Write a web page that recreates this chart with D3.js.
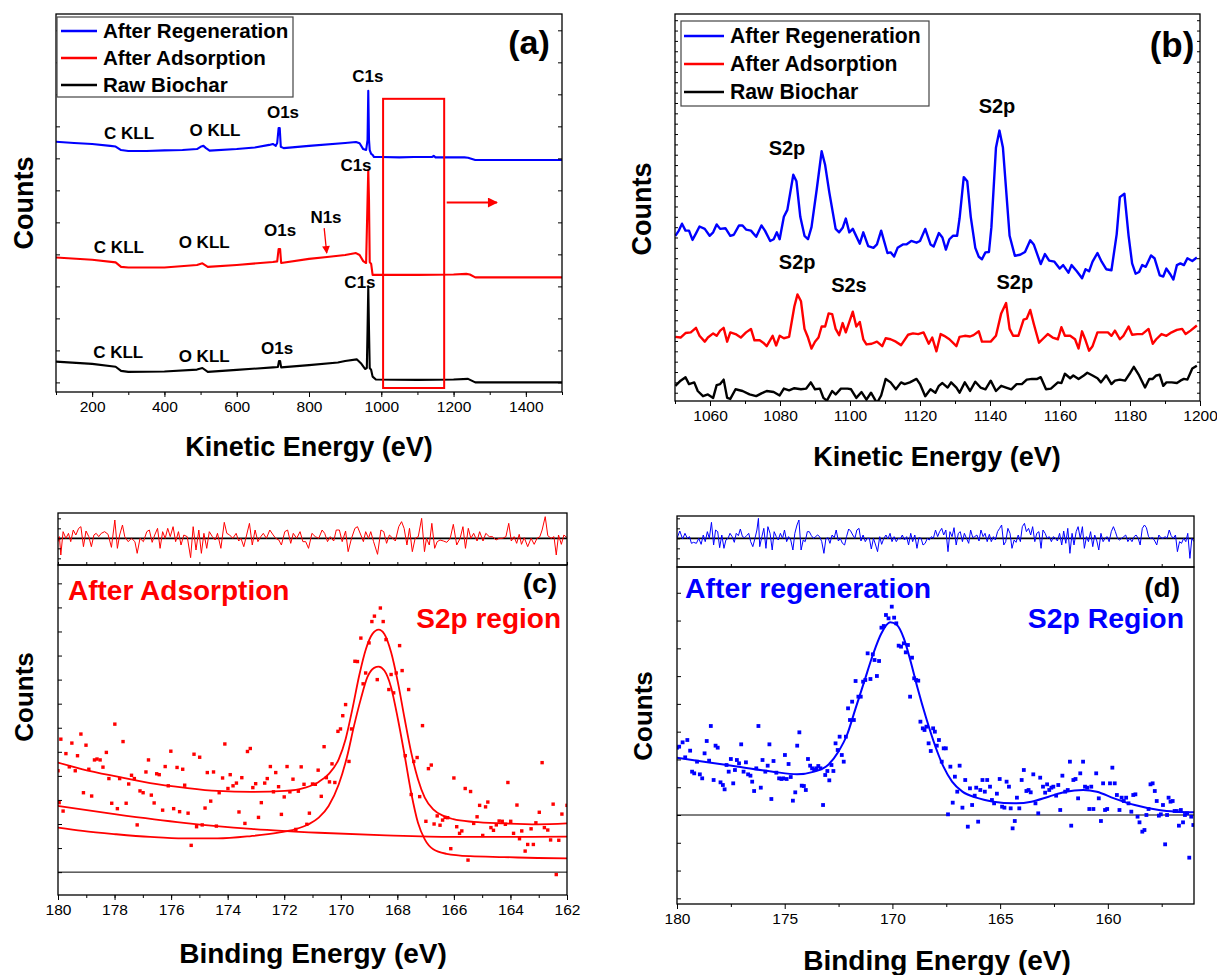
<!DOCTYPE html>
<html><head><meta charset="utf-8">
<script src="https://cdn.jsdelivr.net/npm/d3@7"></script>
<style>body{margin:0;background:#fff}</style>
</head><body><svg id="chart" width="1217" height="975"></svg>
<script>
// ---------------- DATA ----------------
const seriesNames = ["After Regeneration","After Adsorption","Raw Biochar"];
// (a) survey spectra [kinetic energy eV, counts]
const surveyRegen = [[100,75.2],[150,74.8],[200,74.5],[250,73.9],[265,73.7],[280,72.6],[300,72.3],[350,72.3],[400,72.5],[450,72.6],[490,72.9],[500,73.6],[508,73.9],[515,73.2],[525,72.4],[600,72.9],[650,73.4],[690,74.2],[700,74.5],[708,73.9],[712,74.8],[716,79.5],[719,79.5],[722,73.6],[730,73.2],[800,73.9],[900,74.8],[930,75.1],[940,74.7],[950,72.9],[958,72.6],[962,75.8],[964,91.1],[966,75.8],[968,72.6],[972,71.4],[976,71.1],[980,70.4],[1000,70.4],[1050,70.3],[1090,70.4],[1140,70.4],[1145,70.8],[1150,70.3],[1230,70.3],[1240,70.2],[1260,69.5],[1500,69.5]];
const surveyAdsorb = [[100,39.0],[200,38.3],[265,37.5],[280,36.1],[300,35.9],[400,35.9],[490,36.7],[505,37.2],[520,36.1],[600,36.7],[700,37.6],[712,37.8],[716,41.7],[720,41.7],[723,37.3],[800,38.6],[850,39.2],[900,39.8],[930,40.4],[940,39.8],[950,37.9],[958,37.3],[962,57.0],[964,66.4],[966,57.0],[968,37.6],[972,37.0],[976,33.6],[1000,33.6],[1100,33.6],[1200,33.7],[1235,33.9],[1245,33.7],[1260,32.8],[1500,32.8]];
const surveyRaw = [[100,6.5],[200,5.8],[265,4.9],[280,3.6],[300,3.3],[400,3.4],[490,4.0],[505,4.5],[520,3.3],[600,3.9],[700,4.7],[714,4.8],[717,6.7],[720,6.7],[723,4.7],[800,5.4],[880,6.2],[900,6.7],[932,7.2],[945,5.8],[955,4.2],[960,4.5],[962,16.4],[964,29.9],[966,16.4],[968,4.5],[972,3.9],[976,1.8],[985,0.9],[1100,0.8],[1200,0.9],[1240,1.1],[1260,0.0],[1500,0.0]];
// (b) S region spectra
const zoomRegen = [[1050.1,54.5],[1051.1,56.0],[1052.0,58.0],[1053.0,56.0],[1054.0,56.0],[1055.0,53.3],[1056.0,55.2],[1057.0,57.2],[1058.5,56.5],[1059.9,54.5],[1060.9,55.5],[1061.9,57.8],[1062.9,56.5],[1064.4,56.7],[1065.8,54.5],[1066.8,54.8],[1068.3,57.5],[1069.3,57.5],[1070.3,56.3],[1071.7,56.0],[1073.2,54.2],[1074.7,57.5],[1075.7,56.0],[1077.2,53.0],[1078.2,53.5],[1079.1,55.5],[1079.9,53.5],[1081.1,60.0],[1082.1,62.0],[1083.8,72.2],[1084.7,70.3],[1085.8,60.0],[1087.0,54.5],[1088.0,53.5],[1089.0,57.0],[1090.5,68.0],[1091.9,79.0],[1092.9,75.0],[1094.1,67.0],[1095.9,56.5],[1096.9,55.5],[1097.9,56.8],[1098.8,59.5],[1099.8,55.5],[1100.8,56.5],[1102.8,52.2],[1103.8,55.5],[1105.2,51.5],[1106.7,51.0],[1107.7,52.0],[1108.9,56.0],[1110.7,49.5],[1111.6,49.7],[1112.6,48.5],[1113.6,51.0],[1115.1,52.0],[1116.1,52.0],[1117.5,53.0],[1119.0,52.5],[1120.0,53.0],[1121.5,56.5],[1123.0,52.0],[1123.9,51.4],[1125.4,55.3],[1126.4,54.0],[1127.4,50.5],[1128.4,53.5],[1129.4,54.5],[1130.6,54.5],[1131.3,59.5],[1132.5,71.5],[1133.5,70.3],[1134.5,60.0],[1135.8,51.0],[1136.8,48.4],[1137.7,47.7],[1138.7,49.7],[1139.7,49.8],[1140.4,57.0],[1141.7,80.0],[1142.7,85.0],[1143.7,80.0],[1145.6,54.5],[1147.1,48.7],[1148.6,49.0],[1150.0,49.8],[1151.5,53.2],[1152.5,52.0],[1154.5,46.3],[1155.7,49.2],[1156.9,47.3],[1158.4,47.0],[1159.9,45.0],[1160.9,46.0],[1162.4,43.8],[1163.3,46.0],[1164.8,44.2],[1166.3,42.2],[1167.3,44.8],[1168.3,44.2],[1169.3,47.0],[1170.7,49.5],[1171.9,47.0],[1173.2,44.8],[1174.7,44.5],[1176.2,55.0],[1177.1,65.7],[1178.4,66.7],[1179.6,54.5],[1180.6,46.5],[1181.6,43.5],[1182.6,44.0],[1183.5,46.0],[1184.5,45.5],[1186.0,48.8],[1187.0,48.0],[1188.5,43.0],[1189.5,42.7],[1190.4,45.0],[1191.4,43.5],[1192.4,41.8],[1193.4,46.0],[1194.4,46.5],[1195.4,46.0],[1196.4,48.0],[1197.8,47.2],[1199.1,48.2]];
const zoomAdsorb = [[1050.1,25.2],[1051.6,25.0],[1053.0,26.3],[1054.5,26.5],[1056.0,27.8],[1057.0,25.5],[1058.5,23.8],[1059.4,25.0],[1060.9,26.2],[1061.9,25.5],[1062.9,27.0],[1063.9,27.8],[1064.9,23.8],[1065.8,26.5],[1067.3,26.0],[1068.8,25.0],[1070.3,26.5],[1071.7,27.5],[1072.7,24.2],[1074.2,24.2],[1075.2,23.5],[1076.2,22.5],[1077.9,25.5],[1078.9,22.7],[1079.9,25.5],[1081.1,24.8],[1082.6,25.2],[1084.1,34.0],[1085.0,37.5],[1086.0,35.5],[1087.0,27.5],[1088.0,25.0],[1089.0,21.8],[1090.0,23.8],[1091.0,25.0],[1091.9,28.2],[1092.9,28.2],[1093.9,32.0],[1094.9,31.8],[1095.9,27.5],[1096.9,25.7],[1097.9,29.2],[1098.8,26.5],[1100.8,32.5],[1101.8,28.2],[1102.8,29.5],[1103.8,24.5],[1104.7,23.0],[1106.2,23.2],[1107.7,23.8],[1109.2,22.5],[1110.2,24.8],[1111.6,24.5],[1113.1,23.8],[1114.6,22.8],[1116.6,25.8],[1118.0,26.2],[1119.5,26.0],[1121.0,26.5],[1122.5,23.2],[1123.5,25.0],[1124.7,21.0],[1125.9,26.0],[1126.9,25.5],[1128.4,24.5],[1130.4,22.5],[1131.3,25.2],[1132.8,25.5],[1134.3,25.3],[1135.3,25.7],[1136.8,26.8],[1137.7,23.8],[1139.2,23.8],[1140.2,23.8],[1141.7,25.5],[1143.2,32.0],[1144.6,35.0],[1145.6,27.5],[1146.6,25.5],[1148.1,25.5],[1149.6,30.2],[1150.5,30.5],[1151.5,33.0],[1152.5,29.0],[1154.0,23.5],[1155.0,24.5],[1156.5,26.0],[1157.9,25.0],[1159.4,24.5],[1160.4,28.0],[1161.4,25.5],[1162.9,25.5],[1164.3,24.5],[1165.3,21.8],[1166.3,26.8],[1167.3,24.2],[1168.3,21.2],[1169.3,22.5],[1170.7,26.5],[1172.2,26.5],[1173.7,26.5],[1174.7,25.5],[1175.7,27.0],[1177.1,24.5],[1178.1,25.5],[1179.6,28.2],[1180.6,25.8],[1182.1,26.0],[1183.5,26.0],[1185.3,27.5],[1186.5,23.2],[1187.5,24.5],[1189.0,26.0],[1190.4,25.5],[1191.9,26.5],[1193.4,27.2],[1194.9,27.5],[1195.9,26.0],[1197.3,27.0],[1199.1,28.5]];
const zoomRaw = [[1050.1,11.0],[1051.6,12.5],[1053.0,13.5],[1054.0,11.5],[1055.5,12.0],[1056.5,9.5],[1058.0,8.0],[1059.4,8.5],[1060.9,7.5],[1061.9,11.2],[1062.9,11.5],[1063.9,12.8],[1064.9,7.5],[1065.8,7.2],[1067.3,10.0],[1069.3,9.5],[1071.3,8.5],[1073.2,8.0],[1074.7,8.8],[1076.2,9.5],[1078.2,9.2],[1079.9,8.2],[1081.1,10.2],[1082.6,9.7],[1084.1,10.3],[1086.0,10.0],[1087.5,10.2],[1088.8,12.0],[1090.0,10.0],[1091.4,10.2],[1092.4,7.5],[1093.4,6.7],[1094.9,9.5],[1095.9,8.5],[1097.4,10.2],[1099.3,10.2],[1100.3,10.0],[1101.8,7.5],[1103.3,9.2],[1104.7,7.0],[1106.0,9.0],[1107.7,6.0],[1108.9,8.2],[1110.2,13.0],[1111.6,12.0],[1113.1,10.0],[1114.6,12.0],[1115.6,11.5],[1117.1,12.0],[1119.0,13.0],[1120.0,11.5],[1121.5,8.0],[1123.0,10.0],[1124.4,9.0],[1125.4,11.0],[1126.4,11.8],[1127.9,10.5],[1128.9,12.0],[1130.4,10.5],[1131.3,9.0],[1132.8,12.0],[1134.3,9.5],[1135.8,12.2],[1137.3,10.5],[1138.7,10.0],[1140.2,12.5],[1141.7,9.5],[1143.2,11.0],[1144.6,10.5],[1146.1,10.0],[1147.6,11.5],[1149.1,11.5],[1150.5,12.8],[1152.0,13.0],[1153.5,13.0],[1154.5,13.5],[1156.0,10.0],[1157.4,10.2],[1159.4,12.0],[1160.4,11.8],[1161.4,14.5],[1162.9,13.2],[1163.8,14.0],[1165.3,13.0],[1166.8,14.0],[1167.8,14.8],[1169.3,14.0],[1170.7,13.2],[1171.7,12.0],[1173.2,14.0],[1174.7,11.5],[1175.7,12.5],[1177.1,12.8],[1178.6,12.5],[1180.1,14.8],[1181.1,16.5],[1182.6,14.0],[1184.3,10.5],[1185.5,13.0],[1186.5,13.0],[1187.5,14.0],[1188.5,14.2],[1189.5,11.0],[1190.4,12.0],[1191.9,12.0],[1193.4,11.8],[1194.4,12.5],[1195.4,13.0],[1196.4,12.8],[1197.8,16.0],[1199.1,16.8]];
// (c) S2p region after adsorption [binding energy eV, counts]
const adsDots = [[180.0,33.7],[179.96,23.1],[179.90,44.2],[179.82,20.3],[179.72,39.4],[179.60,35.0],[179.51,42.9],[179.39,33.7],[179.31,38.7],[179.19,45.9],[179.10,26.4],[179.01,42.2],[178.91,34.2],[178.81,25.3],[178.71,37.3],[178.62,37.6],[178.51,37.3],[178.41,34.9],[178.29,39.8],[178.20,31.1],[178.10,22.9],[177.99,49.2],[177.90,21.1],[177.82,31.1],[177.70,43.4],[177.59,22.9],[177.50,29.3],[177.40,32.2],[177.30,31.1],[177.20,15.7],[177.10,27.0],[176.99,26.4],[176.89,33.3],[176.80,37.3],[176.70,25.6],[176.60,23.0],[176.51,32.7],[176.42,32.4],[176.30,20.6],[176.21,35.1],[176.10,28.7],[176.01,40.2],[175.91,21.1],[175.79,34.8],[175.70,20.1],[175.59,34.2],[175.52,28.9],[175.40,19.6],[175.29,8.9],[175.19,39.2],[175.10,15.1],[174.99,38.2],[174.90,15.7],[174.80,21.3],[174.72,33.1],[174.60,23.6],[174.50,33.3],[174.40,15.3],[174.30,26.4],[174.18,31.3],[174.10,42.6],[173.99,27.8],[173.91,32.4],[173.81,28.7],[173.69,29.6],[173.60,20.0],[173.50,31.4],[173.39,16.2],[173.30,40.1],[173.20,41.1],[173.11,28.1],[173.01,29.4],[172.91,18.2],[172.81,23.1],[172.69,29.6],[172.60,31.1],[172.49,35.1],[172.38,26.7],[172.30,33.1],[172.20,28.4],[172.10,19.2],[172.00,25.0],[171.90,35.1],[171.80,26.7],[171.69,30.9],[171.59,14.2],[171.50,26.9],[171.40,35.0],[171.30,29.2],[171.20,15.9],[171.11,19.6],[171.00,29.3],[170.90,29.2],[170.80,33.9],[170.69,25.2],[170.59,41.7],[170.51,31.4],[170.40,30.0],[170.31,36.0],[170.21,29.8],[170.10,46.8],[170.01,47.6],[169.93,52.0],[169.83,55.7],[169.71,36.8],[169.62,47.6],[169.50,70.1],[169.41,70.0],[169.29,77.8],[169.21,62.6],[169.12,66.2],[169.00,76.2],[168.90,83.3],[168.81,85.1],[168.71,64.0],[168.60,87.8],[168.50,83.3],[168.40,77.3],[168.30,60.7],[168.22,65.7],[168.13,59.6],[168.04,66.2],[167.92,75.3],[167.83,67.0],[167.72,38.7],[167.60,60.7],[167.51,25.8],[167.42,36.8],[167.30,38.1],[167.21,25.1],[167.11,48.7],[166.99,16.9],[166.90,34.4],[166.80,35.6],[166.70,16.0],[166.59,18.7],[166.49,15.6],[166.40,17.3],[166.31,18.2],[166.22,18.1],[166.11,7.8],[166.00,31.3],[165.90,15.1],[165.80,12.9],[165.72,13.7],[165.60,27.8],[165.50,4.0],[165.41,26.8],[165.30,16.2],[165.18,18.4],[165.09,22.2],[164.98,12.2],[164.88,21.7],[164.80,23.3],[164.69,14.8],[164.60,13.9],[164.50,15.7],[164.40,17.0],[164.29,16.9],[164.18,15.9],[164.09,29.8],[163.99,16.9],[163.89,12.9],[163.77,22.3],[163.68,11.1],[163.60,13.7],[163.48,7.0],[163.39,9.2],[163.27,14.4],[163.19,9.2],[163.10,16.4],[162.98,19.9],[162.88,36.4],[162.80,14.8],[162.68,14.0],[162.58,10.7],[162.49,22.6],[162.38,-0.8],[162.29,10.6],[162.18,19.3],[162.0,22.2]];
const adsEnvelope = [[180.0,36.4],[179.13,34.2],[177.94,31.8],[176.74,29.6],[175.55,28.1],[174.36,27.0],[173.17,26.7],[171.98,27.0],[171.26,28.1],[170.78,30.0],[170.43,32.6],[170.07,37.6],[169.83,44.2],[169.59,54.2],[169.35,65.3],[169.11,74.2],[168.88,79.2],[168.66,80.6],[168.46,79.2],[168.22,73.1],[167.98,63.1],[167.74,50.9],[167.51,39.8],[167.27,30.9],[167.03,24.8],[166.73,20.9],[166.37,18.7],[166.02,17.6],[165.30,16.7],[164.23,16.2],[163.04,15.9],[162.0,16.2]];
const adsComponent = [[180.0,14.8],[179.13,13.7],[177.94,12.6],[176.74,11.7],[175.55,11.2],[174.36,11.2],[173.17,12.0],[172.21,13.1],[171.62,14.2],[171.14,15.9],[170.78,18.1],[170.43,22.0],[170.07,29.2],[169.77,38.7],[169.53,48.7],[169.29,57.6],[169.06,64.8],[168.82,67.9],[168.66,68.3],[168.46,67.0],[168.22,61.4],[167.98,50.9],[167.74,38.7],[167.51,26.4],[167.27,16.4],[167.03,10.9],[166.73,7.6],[166.26,6.1],[165.42,5.3],[164.23,5.0],[163.04,4.7],[162.0,4.6]];
const adsBackground = [[180.0,22.0],[177.94,19.2],[175.55,16.4],[173.17,14.4],[170.78,13.1],[168.40,12.2],[166.02,11.7],[163.64,11.7],[162.0,11.8]];
const adsResidual = [[180.0,-1.0],[179.95,0.5],[179.90,-5.0],[179.82,2.0],[179.72,0],[179.63,1.5],[179.55,-1.0],[179.46,2.5],[179.37,1.0],[179.27,3.0],[179.19,3.5],[179.10,-2.5],[179.01,2.2],[178.91,0.5],[178.82,-2.5],[178.73,1.0],[178.65,1.5],[178.56,0.5],[178.47,1.5],[178.35,2.0],[178.23,1.2],[178.11,-2.7],[177.99,5.5],[177.90,-3.0],[177.82,1.0],[177.72,4.0],[177.64,0.5],[177.52,-1.0],[177.40,0],[177.28,-1.0],[177.20,-4.5],[177.10,0],[176.98,-1.0],[176.86,2.0],[176.77,2.5],[176.67,-1.2],[176.58,1.0],[176.48,3.0],[176.39,-3.0],[176.30,2.0],[176.21,0],[176.12,3.0],[176.03,0.5],[175.93,3.5],[175.84,-1.0],[175.74,2.0],[175.65,-2.0],[175.55,1.0],[175.43,0.5],[175.31,-5.8],[175.22,3.5],[175.12,-3.5],[175.02,2.5],[174.93,-4.5],[174.84,1.5],[174.74,-3.0],[174.65,2.0],[174.54,0.5],[174.44,-0.5],[174.36,1.5],[174.24,-3.0],[174.12,4.8],[174.03,1.5],[173.93,1.0],[173.82,0],[173.70,1.5],[173.61,-0.8],[173.53,0],[173.43,-2.5],[173.33,1.0],[173.23,4.5],[173.13,-2.0],[173.03,2.5],[172.93,-1.0],[172.83,0.5],[172.74,1.5],[172.63,0],[172.51,2.5],[172.39,1.0],[172.30,0],[172.19,-0.5],[172.10,-2.0],[171.98,2.0],[171.88,2.5],[171.77,-1.5],[171.68,1.5],[171.56,0],[171.44,2.0],[171.34,-1.0],[171.24,-1.0],[171.14,-3.0],[171.02,1.5],[170.90,0.5],[170.78,0],[170.66,2.5],[170.57,1.5],[170.47,-1.0],[170.37,0.5],[170.25,-0.8],[170.16,2.5],[170.05,2.5],[169.95,-1.0],[169.83,2.2],[169.74,-4.0],[169.62,0],[169.50,3.0],[169.41,3.5],[169.29,1.0],[169.20,-1.0],[169.12,2.0],[169.02,0],[168.94,2.0],[168.84,-1.0],[168.70,-4.8],[168.58,2.5],[168.48,2.0],[168.38,-1.5],[168.28,1.0],[168.16,0],[168.07,-0.8],[167.95,3.5],[167.85,5.0],[167.76,3.0],[167.66,-2.0],[167.57,3.0],[167.47,-4.0],[167.37,0],[167.26,0.5],[167.14,6.0],[167.04,-4.0],[166.97,0],[166.87,-2.0],[166.78,4.5],[166.68,-3.0],[166.59,-1.0],[166.49,-0.5],[166.37,-0.8],[166.25,-1.2],[166.13,0],[166.02,4.2],[165.90,-2.0],[165.78,0],[165.68,3.5],[165.59,-3.0],[165.49,3.0],[165.40,0],[165.30,1.5],[165.18,-0.8],[165.09,2.0],[164.97,-0.8],[164.87,1.5],[164.75,0.5],[164.63,0.5],[164.51,-0.5],[164.40,0],[164.28,0],[164.16,0.5],[164.06,4.5],[163.97,-0.8],[163.87,0.5],[163.78,-1.5],[163.69,1.2],[163.61,-1.8],[163.51,0.2],[163.39,-2.5],[163.27,0],[163.16,-1.8],[163.06,0],[162.96,0.5],[162.88,2.5],[162.77,6.5],[162.68,0.8],[162.56,0],[162.46,0.5],[162.38,-5.0],[162.30,1.0],[162.20,-1.8],[162.11,1.0],[162.00,0.2]];
// (d) S2p region after regeneration
const regDots = [[180.0,20.2],[179.90,20.5],[179.74,21.8],[179.62,17.3],[179.52,22.5],[179.39,19.3],[179.30,13.0],[179.20,12.5],[179.07,16.0],[178.94,12.2],[178.83,11.0],[178.72,18.5],[178.62,22.2],[178.51,16.3],[178.43,26.7],[178.30,10.5],[178.21,20.8],[178.11,20.2],[177.98,9.8],[177.87,9.0],[177.79,7.7],[177.70,15.0],[177.60,13.0],[177.50,16.8],[177.39,9.5],[177.31,13.5],[177.22,16.5],[177.12,15.5],[177.02,21.2],[176.91,13.0],[176.80,15.8],[176.70,12.2],[176.59,11.8],[176.51,10.0],[176.42,7.2],[176.32,14.0],[176.22,26.7],[176.11,8.2],[176.03,16.5],[175.90,13.0],[175.79,14.8],[175.71,21.2],[175.62,4.8],[175.52,16.2],[175.39,12.7],[175.26,11.0],[175.15,10.8],[175.07,11.0],[174.99,18.0],[174.91,10.8],[174.82,15.3],[174.72,11.4],[174.62,4.3],[174.51,6.8],[174.42,20.8],[174.32,24.8],[174.21,8.8],[174.11,8.7],[174.02,7.5],[173.92,16.8],[173.82,14.8],[173.73,14.0],[173.63,13.5],[173.54,14.0],[173.44,14.7],[173.34,14.0],[173.22,3.0],[173.12,12.0],[173.02,13.2],[172.93,10.4],[172.83,15.0],[172.74,13.2],[172.64,21.5],[172.54,19.5],[172.45,23.5],[172.35,18.0],[172.26,16.0],[172.16,23.5],[172.06,32.0],[171.97,28.5],[171.87,34.0],[171.79,28.5],[171.71,40.2],[171.58,35.5],[171.47,35.5],[171.36,40.0],[171.26,40.5],[171.15,48.5],[171.02,40.8],[170.91,48.2],[170.83,46.5],[170.72,41.7],[170.62,46.2],[170.51,56.2],[170.40,56.7],[170.30,60.0],[170.18,59.0],[170.03,62.5],[169.92,59.2],[169.82,57.5],[169.71,50.8],[169.60,50.5],[169.47,51.5],[169.38,48.8],[169.28,51.0],[169.18,35.5],[169.09,47.2],[168.99,41.0],[168.90,40.5],[168.80,40.3],[168.70,28.0],[168.59,26.0],[168.51,25.5],[168.42,26.5],[168.32,21.5],[168.22,19.2],[168.11,26.0],[168.03,25.0],[167.94,20.8],[167.84,22.5],[167.71,16.0],[167.62,20.0],[167.52,20.0],[167.42,0.2],[167.31,14.5],[167.20,3.7],[167.10,11.5],[166.99,7.0],[166.88,14.8],[166.75,2.2],[166.62,10.5],[166.50,-3.5],[166.40,8.0],[166.30,3.0],[166.18,5.8],[166.11,8.2],[166.02,-2.0],[165.92,7.5],[165.82,10.5],[165.71,7.0],[165.60,10.5],[165.47,8.5],[165.38,4.5],[165.28,3.5],[165.15,6.4],[165.02,10.8],[164.91,2.5],[164.80,2.2],[164.70,10.0],[164.59,8.5],[164.51,2.0],[164.42,-4.0],[164.32,-1.8],[164.22,5.2],[164.11,2.0],[164.00,10.5],[163.90,13.5],[163.78,7.2],[163.68,7.5],[163.58,6.8],[163.46,12.2],[163.36,3.5],[163.23,0.5],[163.14,11.2],[163.01,8.5],[162.91,6.7],[162.82,9.2],[162.72,7.5],[162.62,8.2],[162.53,8.5],[162.40,5.8],[162.30,9.0],[162.21,1.5],[162.11,11.8],[161.98,7.0],[161.86,7.5],[161.76,16.0],[161.70,-3.2],[161.60,10.5],[161.50,10.8],[161.38,5.0],[161.28,12.5],[161.15,16.0],[161.06,8.5],[160.96,8.2],[160.86,1.8],[160.77,8.5],[160.67,1.8],[160.54,12.5],[160.42,5.0],[160.32,-1.8],[160.22,9.5],[160.13,1.5],[160.03,1.8],[159.90,9.5],[159.79,14.2],[159.68,9.5],[159.58,6.0],[159.46,1.5],[159.36,5.2],[159.26,4.2],[159.15,5.2],[159.04,3.5],[158.91,1.0],[158.82,6.0],[158.72,6.2],[158.62,-0.5],[158.53,-2.2],[158.40,-5.0],[158.30,-4.5],[158.21,0.0],[158.11,1.8],[158.02,9.2],[157.92,9.5],[157.82,7.2],[157.73,4.2],[157.63,-0.2],[157.54,0.2],[157.44,3.0],[157.34,-8.8],[157.25,0.0],[157.18,5.2],[157.09,4.0],[156.99,4.2],[156.90,1.2],[156.80,1.2],[156.70,-3.2],[156.61,1.5],[156.51,-2.2],[156.42,0.0],[156.32,0.5],[156.22,-12.8],[156.13,-0.5],[156.03,-3.0]];
const regFit = [[180.0,17.2],[178.75,16.0],[177.15,14.5],[175.55,13.0],[174.43,12.2],[173.63,13.0],[172.99,15.0],[172.51,19.0],[172.11,24.0],[171.71,32.0],[171.31,40.0],[170.91,48.0],[170.51,54.5],[170.11,57.8],[169.79,57.0],[169.47,53.0],[169.15,46.0],[168.83,38.0],[168.43,29.0],[168.03,21.0],[167.63,14.5],[167.23,10.0],[166.75,7.0],[166.11,5.2],[165.31,4.0],[164.35,3.5],[163.55,4.0],[162.75,5.5],[161.95,7.0],[161.15,7.5],[160.51,7.0],[159.71,5.0],[158.75,3.0],[157.63,1.5],[156.83,1.0],[156.0,0.8]];
const regResidual = [[180.0,0],[179.87,2.2],[179.74,-0.2],[179.63,1.5],[179.52,0],[179.42,0.5],[179.33,-1.5],[179.23,-1.2],[179.10,-1.5],[178.99,0],[178.88,-1.8],[178.78,1.0],[178.69,-1.0],[178.59,2.0],[178.50,0],[178.40,4.8],[178.30,-2.0],[178.21,2.5],[178.11,2.0],[178.02,-2.8],[177.92,1.0],[177.82,-3.0],[177.73,-0.5],[177.63,0],[177.54,1.5],[177.44,0.5],[177.34,-1.2],[177.25,1.5],[177.15,0.8],[177.06,2.8],[176.96,0.5],[176.86,0.2],[176.77,0.8],[176.67,1.5],[176.58,-1.0],[176.48,-2.5],[176.38,0],[176.29,2.5],[176.22,6.0],[176.16,-2.5],[176.06,0.5],[175.97,3.0],[175.87,-3.0],[175.78,3.5],[175.68,1.5],[175.58,-3.5],[175.49,2.0],[175.39,0.5],[175.30,-0.5],[175.20,1.5],[175.10,0],[175.01,2.5],[174.91,-1.0],[174.82,0.5],[174.72,-0.5],[174.62,-3.5],[174.53,1.5],[174.43,4.0],[174.34,5.5],[174.24,-3.5],[174.14,-0.5],[174.05,-1.0],[173.95,2.0],[173.86,2.0],[173.76,0.8],[173.66,0],[173.57,0.5],[173.47,1.0],[173.38,0.5],[173.28,-1.0],[173.18,-4.5],[173.09,-0.2],[172.99,0.2],[172.90,-1.5],[172.80,1.0],[172.70,0.2],[172.61,2.5],[172.51,-0.8],[172.42,0],[172.32,-1.5],[172.22,-2.0],[172.13,0.5],[172.03,2.8],[171.94,2.2],[171.84,1.0],[171.74,0],[171.65,2.5],[171.55,3.0],[171.46,-0.8],[171.36,1.0],[171.26,-1.0],[171.17,0],[171.07,0],[170.98,-3.2],[170.88,0],[170.78,-2.0],[170.69,-4.0],[170.59,0.5],[170.50,-1.8],[170.40,0],[170.30,1.0],[170.21,-0.2],[170.11,1.5],[170.02,-1.0],[169.92,0.5],[169.82,-1.0],[169.73,0],[169.63,-0.2],[169.54,1.0],[169.44,-0.5],[169.34,0.5],[169.25,-2.0],[169.15,1.5],[169.06,-1.0],[168.96,1.0],[168.86,-3.0],[168.77,0.2],[168.67,0],[168.58,-2.0],[168.48,-1.5],[168.38,0],[168.29,-0.5],[168.19,0.5],[168.10,0],[168.00,2.5],[167.90,0.5],[167.81,2.0],[167.71,3.0],[167.62,1.0],[167.52,2.5],[167.42,-4.0],[167.33,2.0],[167.23,0.5],[167.14,3.2],[167.04,-2.0],[166.94,1.5],[166.85,2.0],[166.75,-1.0],[166.66,1.5],[166.56,0],[166.46,-1.5],[166.37,2.5],[166.27,0.2],[166.18,0.5],[166.08,1.0],[165.98,-0.8],[165.89,2.5],[165.79,0.5],[165.70,1.5],[165.60,-1.0],[165.50,1.2],[165.41,-1.0],[165.31,0.5],[165.22,-0.5],[165.12,2.0],[165.02,3.0],[164.93,4.0],[164.83,-2.0],[164.74,-1.0],[164.64,3.0],[164.54,1.5],[164.45,-3.0],[164.35,-0.5],[164.26,-1.2],[164.16,1.0],[164.06,-1.0],[163.97,3.5],[163.87,4.5],[163.78,2.0],[163.68,3.0],[163.58,1.0],[163.49,3.5],[163.39,-1.0],[163.30,1.5],[163.20,2.0],[163.10,-3.0],[163.01,2.5],[162.91,1.5],[162.82,0],[162.72,0.5],[162.62,-1.0],[162.53,0.5],[162.43,0],[162.34,-0.8],[162.24,1.5],[162.14,-2.0],[162.05,2.2],[161.95,-1.5],[161.86,3.0],[161.76,-4.5],[161.66,1.5],[161.57,-2.0],[161.47,2.0],[161.38,3.5],[161.28,0],[161.18,3.5],[161.09,-3.0],[160.99,0.5],[160.90,-1.0],[160.80,2.0],[160.70,-2.5],[160.61,1.0],[160.51,-0.8],[160.42,-3.5],[160.32,1.5],[160.22,-1.0],[160.13,0],[160.03,0.5],[159.94,-1.0],[159.84,2.0],[159.74,3.5],[159.65,2.0],[159.55,0],[159.46,-0.5],[159.36,0],[159.26,0.5],[159.17,1.0],[159.07,-1.0],[158.98,0],[158.88,-1.0],[158.78,0.5],[158.69,1.0],[158.59,0],[158.50,-2.0],[158.40,3.0],[158.30,4.0],[158.21,3.2],[158.11,0.5],[158.02,0],[157.92,0.2],[157.82,-0.8],[157.73,-2.0],[157.63,1.0],[157.54,0.2],[157.44,0],[157.34,0.5],[157.25,0],[157.15,2.5],[157.06,0.8],[156.96,0],[156.86,1.0],[156.77,-4.0],[156.67,-1.0],[156.58,-1.5],[156.48,0],[156.38,-1.0],[156.29,1.5],[156.19,-6.0],[156.10,0],[156.00,-1.0]];
// tick labels
const aTicks = [200,400,600,800,1000,1200,1400];
const bTicks = [1060,1080,1100,1120,1140,1160,1180,1200];
const cTicks = [180,178,176,174,172,170,168,166,164,162];
const dTicks = [180,175,170,165,160];

// ---------------- DRAW ----------------
const FONT = '"Liberation Sans", Arial, Helvetica, sans-serif';
const svg = d3.select("#chart");
const defs = svg.append("defs");
const BLUE = "#0000ff", RED = "#ff0000", BLACK = "#000";
const colors = [BLUE, RED, BLACK];

defs.append("marker").attr("id","arrRed").attr("viewBox","0 0 10 10").attr("refX",9).attr("refY",5)
  .attr("markerWidth",6).attr("markerHeight",5).attr("markerUnits","strokeWidth").attr("orient","auto")
  .append("path").attr("d","M0,0 L10,5 L0,10 Z").attr("fill",RED);
defs.append("marker").attr("id","arrRedSmall").attr("viewBox","0 0 10 10").attr("refX",9).attr("refY",5)
  .attr("markerWidth",7).attr("markerHeight",6).attr("markerUnits","strokeWidth").attr("orient","auto")
  .append("path").attr("d","M0,0 L10,5 L0,10 Z").attr("fill",RED);

let clipId = 0;
function clip(x0,y0,x1,y1){
  const id = "clip"+(clipId++);
  defs.append("clipPath").attr("id",id).append("rect").attr("x",x0).attr("y",y0).attr("width",x1-x0).attr("height",y1-y0);
  return "url(#"+id+")";
}
function frame(x0,y0,x1,y1,w){
  svg.append("rect").attr("x",x0).attr("y",y0).attr("width",x1-x0).attr("height",y1-y0)
    .attr("fill","none").attr("stroke","#000").attr("stroke-width",w||1.3);
}
function xAxis(x, y0, majors, minors, fmt){
  const gm = svg.append("g").attr("transform",`translate(0,${y0})`)
    .call(d3.axisBottom(x).tickValues(minors).tickSize(3).tickFormat(""));
  gm.select(".domain").remove();
  const g = svg.append("g").attr("transform",`translate(0,${y0})`)
    .call(d3.axisBottom(x).tickValues(majors).tickSize(5).tickPadding(4).tickFormat(fmt || d3.format("d")));
  g.select(".domain").remove();
  g.attr("font-family",FONT).attr("font-size",15.5);
  g.selectAll("text").attr("fill","#000");
}
function yTicks(y, x0, x1, vals, both, len){
  const l = len || 4;
  const g = svg.append("g").attr("transform",`translate(${x0},0)`)
    .call(d3.axisLeft(y).tickValues(vals).tickSize(-l).tickFormat(""));
  g.select(".domain").remove();
  if (both){
    const g2 = svg.append("g").attr("transform",`translate(${x1},0)`)
      .call(d3.axisRight(y).tickValues(vals).tickSize(-l).tickFormat(""));
    g2.select(".domain").remove();
  }
}
function text(t, x, y, size, opts){
  opts = opts || {};
  const el = svg.append("text").attr("x",x).attr("y",y).text(t)
    .attr("font-family",FONT).attr("font-size",size).attr("font-weight",opts.weight||"bold")
    .attr("fill",opts.fill||"#000").attr("text-anchor",opts.anchor||"middle").attr("dy",opts.dy||"0.35em");
  if (opts.rotate) el.attr("transform",`rotate(${opts.rotate},${x},${y})`);
  return el;
}
function drawLine(data, x, y, color, width, clipUrl, curve){
  const line = d3.line().x(d=>x(d[0])).y(d=>y(d[1]));
  if (curve) line.curve(curve);
  svg.append("path").datum(data).attr("d",line).attr("fill","none").attr("stroke",color)
    .attr("stroke-width",width).attr("stroke-linejoin","round").attr("clip-path",clipUrl);
}
function legend(x0,y0,w,h,rowYs,lineX0,lineX1,textX,size){
  svg.append("rect").attr("x",x0).attr("y",y0).attr("width",w).attr("height",h)
    .attr("fill","#fff").attr("stroke","#444").attr("stroke-width",1.2);
  seriesNames.forEach((n,i)=>{
    svg.append("line").attr("x1",lineX0).attr("x2",lineX1).attr("y1",rowYs[i]).attr("y2",rowYs[i])
      .attr("stroke",colors[i]).attr("stroke-width",2.5);
    text(n, textX, rowYs[i], size, {anchor:"start"});
  });
}

// ===== Panel (a) =====
{
  const X0=56, X1=562, Y0=14, Y1=392;
  const x = d3.scaleLinear().domain([100,1500]).range([X0,X1]);
  const y = d3.scaleLinear().domain([-3,115.1]).range([Y1,Y0]);
  const cp = clip(X0,Y0,X1,Y1);
  [surveyRegen, surveyAdsorb, surveyRaw].forEach((s,i)=>drawLine(s,x,y,colors[i],2.1,cp));
  svg.append("rect").attr("x",x(1005)).attr("y",y(88.6)).attr("width",x(1174)-x(1005)).attr("height",y(-1.75)-y(88.6))
    .attr("fill","none").attr("stroke",RED).attr("stroke-width",2);
  svg.append("line").attr("x1",x(1181)).attr("x2",x(1320)).attr("y1",y(56.2)).attr("y2",y(56.2))
    .attr("stroke",RED).attr("stroke-width",2).attr("marker-end","url(#arrRed)");
  svg.append("line").attr("x1",x(842)).attr("x2",x(849)).attr("y1",y(48.2)).attr("y2",y(40.4))
    .attr("stroke",RED).attr("stroke-width",1.3).attr("marker-end","url(#arrRedSmall)");
  const aLabels = [["C KLL",302,77.9],["O KLL",540,78.7],["O1s",728,84.5],["C1s",963,95.8],
    ["C KLL",274,42.3],["O KLL",510,43.9],["O1s",720,47.6],["N1s",847,51.7],["C1s",930,68.0],
    ["C KLL",272,9.5],["O KLL",510,8.3],["O1s",712,10.8],["C1s",941,31.4]];
  aLabels.forEach(d=>text(d[0], x(d[1]), y(d[2]), 17));
  frame(X0,Y0,X1,Y1);
  xAxis(x, Y1, aTicks, d3.range(100,1501,100));
  yTicks(y, X0, X1, d3.range(0,115,10), true);
  legend(57,17,236,80,[31,58,85],61,97,103,20.6);
  text("(a)", 529, 42, 34);
  text("Counts", 24, 203, 27, {rotate:-90});
  text("Kinetic Energy (eV)", 309, 447, 27);
}

// ===== Panel (b) =====
{
  const X0=675, X1=1200, Y0=14, Y1=401;
  const x = d3.scaleLinear().domain([1050,1200]).range([X0,X1]);
  const y = d3.scaleLinear().domain([6.6,118.8]).range([Y1,Y0]);
  const cp = clip(X0,Y0,X1,Y1);
  [zoomRegen, zoomAdsorb, zoomRaw].forEach((s,i)=>drawLine(s,x,y,colors[i],2.4,cp));
  const bLabels = [["S2p",1082,80.0],["S2p",1142,92.1],["S2p",1084.9,46.9],["S2s",1099.7,40.2],["S2p",1147.1,41.1]];
  bLabels.forEach(d=>text(d[0], x(d[1]), y(d[2]), 20));
  frame(X0,Y0,X1,Y1);
  xAxis(x, Y1, bTicks, d3.range(1050,1201,10));
  yTicks(y, X0, X1, d3.range(9,118,3), true, 3);
  legend(681,21,248,85,[36,64,92],684,724,730,21.2);
  text("(b)", 1172, 45, 35);
  text("Counts", 642, 209, 27, {rotate:-90});
  text("Kinetic Energy (eV)", 937, 457, 27);
}

// ===== Panel (c) =====
{
  const X0=58, X1=567, RY0=513, RY1=565, Y1=895;
  const x = d3.scaleLinear().domain([180,162]).range([X0,X1]);
  const yr = d3.scaleLinear().domain([-8.0,7.6]).range([RY1,RY0]);
  const y = d3.scaleLinear().domain([-7.6,102.1]).range([Y1,RY1]);
  const cpR = clip(X0,RY0,X1,RY1), cp = clip(X0,RY1,X1,Y1);
  svg.append("line").attr("x1",X0).attr("x2",X1).attr("y1",yr(0)).attr("y2",yr(0)).attr("stroke","#000").attr("stroke-width",1.6);
  drawLine(adsResidual, x, yr, RED, 1, cpR);
  svg.append("line").attr("x1",X0).attr("x2",X1).attr("y1",y(0)).attr("y2",y(0)).attr("stroke","#000").attr("stroke-width",1);
  svg.append("g").attr("clip-path",cp).selectAll("rect").data(adsDots).join("rect")
    .attr("x",d=>x(d[0])-1.7).attr("y",d=>y(d[1])-1.7).attr("width",3.4).attr("height",3.4).attr("fill",RED);
  [adsEnvelope, adsComponent, adsBackground].forEach(s=>drawLine(s,x,y,RED,1.8,cp,d3.curveMonotoneX));
  frame(X0,RY0,X1,RY1);
  frame(X0,RY1,X1,Y1);
  xAxis(x, Y1, cTicks, d3.range(180,161.9,-1));
  yTicks(y, X0, X1, d3.range(0,100,8), false);
  yTicks(yr, X0, X1, [-6,-3,0,3,6], false, 3);
  svg.append("g").attr("transform",`translate(0,${RY1})`)
    .call(d3.axisTop(x).tickValues(d3.range(180,161.9,-1)).tickSize(3).tickFormat(""))
    .select(".domain").remove();
  text("After Adsorption", 68, 590, 28, {anchor:"start", fill:RED});
  text("S2p region", 561, 618, 28, {anchor:"end", fill:RED});
  text("(c)", 557, 583, 28, {anchor:"end"});
  text("Counts", 24, 697, 26, {rotate:-90});
  text("Binding Energy (eV)", 313, 953, 28);
}

// ===== Panel (d) =====
{
  const X0=677, X1=1194, RY0=516, RY1=567, Y1=904;
  const x = d3.scaleLinear().domain([180,156]).range([X0,X1]);
  const yr = d3.scaleLinear().domain([-8.6,6.7]).range([RY1,RY0]);
  const y = d3.scaleLinear().domain([-26.7,74.4]).range([Y1,RY1]);
  const cpR = clip(X0,RY0,X1,RY1), cp = clip(X0,RY1,X1,Y1);
  svg.append("line").attr("x1",X0).attr("x2",X1).attr("y1",yr(0)).attr("y2",yr(0)).attr("stroke","#000").attr("stroke-width",1.6);
  drawLine(regResidual, x, yr, BLUE, 1, cpR);
  svg.append("line").attr("x1",X0).attr("x2",X1).attr("y1",y(0)).attr("y2",y(0)).attr("stroke","#000").attr("stroke-width",1);
  svg.append("g").attr("clip-path",cp).selectAll("rect").data(regDots).join("rect")
    .attr("x",d=>x(d[0])-1.9).attr("y",d=>y(d[1])-1.9).attr("width",3.8).attr("height",3.8).attr("fill",BLUE);
  drawLine(regFit, x, y, BLUE, 2, cp, d3.curveMonotoneX);
  frame(X0,RY0,X1,RY1);
  frame(X0,RY1,X1,Y1);
  xAxis(x, Y1, dTicks, [177.5,172.5,167.5,162.5,157.5]);
  yTicks(y, X0, X1, d3.range(-25,74,25/3), false);
  yTicks(yr, X0, X1, [-6,-3,0,3,6], false, 3);
  svg.append("g").attr("transform",`translate(0,${RY1})`)
    .call(d3.axisTop(x).tickValues([177.5,175,172.5,170,167.5,165,162.5,160,157.5]).tickSize(3).tickFormat(""))
    .select(".domain").remove();
  text("After regeneration", 685, 588, 28.4, {anchor:"start", fill:BLUE});
  text("S2p Region", 1184, 618, 28.4, {anchor:"end", fill:BLUE});
  text("(d)", 1180, 587, 28, {anchor:"end"});
  text("Counts", 643, 716, 26, {rotate:-90});
  text("Binding Energy (eV)", 937, 960, 28);
}
</script></body></html>
